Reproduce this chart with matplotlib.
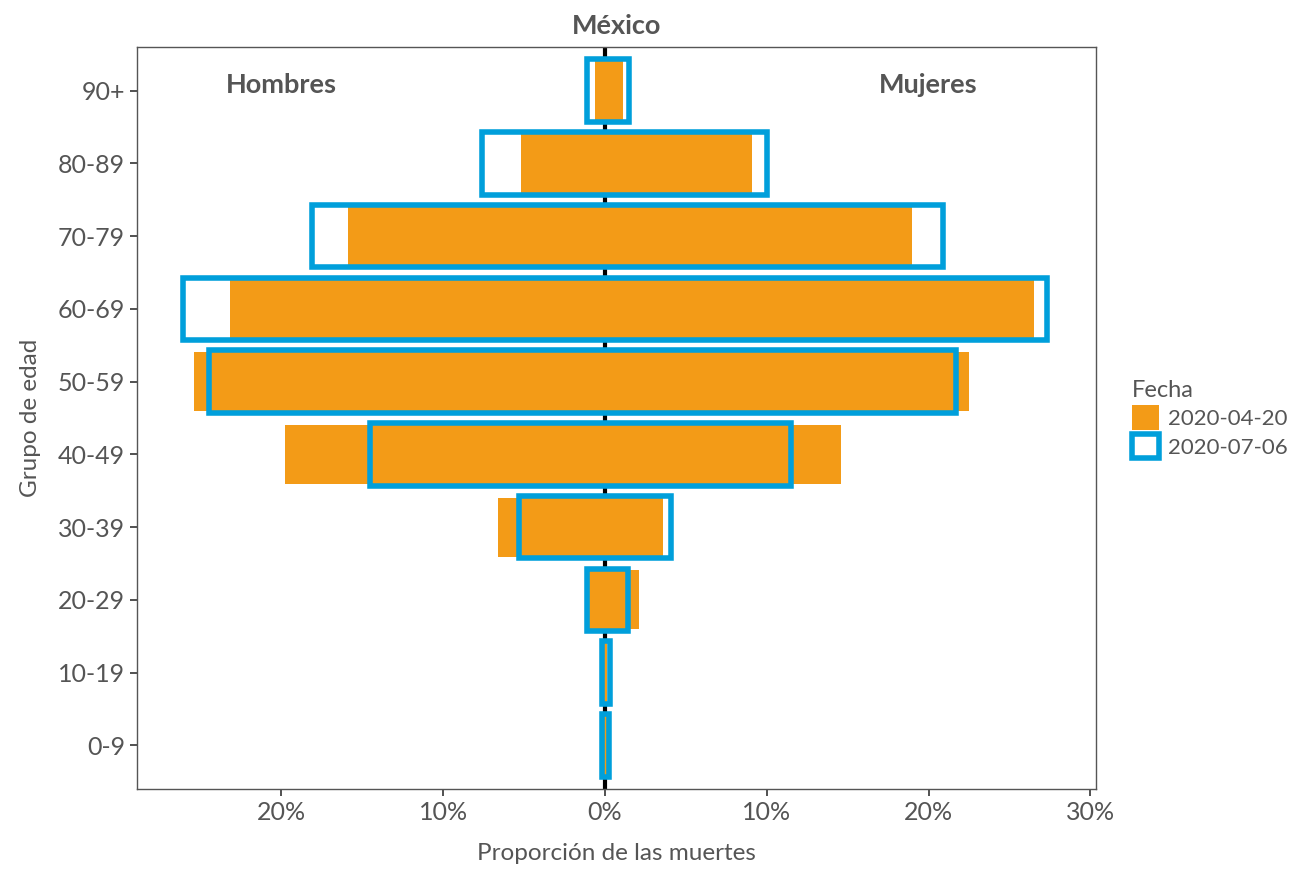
import matplotlib.pyplot as plt
from matplotlib.patches import Patch

# datos: proporción de muertes (%) por grupo de edad
grupos = ["0-9", "10-19", "20-29", "30-39", "40-49", "50-59", "60-69", "70-79", "80-89", "90+"]
hombres_0420 = [0.1, 0.1, 1.1, 6.6, 19.8, 25.4, 23.2, 15.9, 5.2, 0.6]
mujeres_0420 = [0.1, 0.1, 2.1, 3.6, 14.6, 22.5, 26.5, 19.0, 9.1, 1.1]
hombres_0706 = [0.17, 0.17, 1.1, 5.3, 14.5, 24.5, 26.1, 18.1, 7.6, 1.1]
mujeres_0706 = [0.24, 0.33, 1.4, 4.1, 11.5, 21.7, 27.3, 20.9, 10.0, 1.5]

naranja = "#F39B17"
azul = "#009FDB"
gris = "#555555"

plt.rcParams['font.family'] = ['Lato', 'DejaVu Sans']

fig = plt.figure(figsize=(12.9, 8.72), dpi=100)
ax = fig.add_axes([137 / 1290, 1 - 789 / 872, (1096 - 137) / 1290, (789 - 47) / 872])

y = list(range(len(grupos)))

ax.axvline(0, color="black", lw=3, zorder=1)

# 2020-04-20 relleno
ax.barh(y, [-v for v in hombres_0420], height=0.81, color=naranja, zorder=2)
ax.barh(y, mujeres_0420, height=0.81, color=naranja, zorder=2)

# 2020-07-06 solo contorno
left = [-v for v in hombres_0706]
widths = [h + m for h, m in zip(hombres_0706, mujeres_0706)]
ax.barh(y, widths, left=left, height=0.86, fill=False, edgecolor=azul, lw=4, zorder=3)

ax.set_xlim(-28.92, 30.35)
ax.set_ylim(-0.6, 9.6)
ax.set_yticks(y)
ax.set_yticklabels(grupos)
ticks = [-20, -10, 0, 10, 20, 30]
ax.set_xticks(ticks)
ax.set_xticklabels([f"{abs(t)}%" for t in ticks])

ax.tick_params(axis="both", labelsize=18, colors="#333333", labelcolor=gris, length=5, width=1.2)
for s in ax.spines.values():
    s.set_color("#555555")
    s.set_linewidth(1.0)

ax.set_xlabel("Proporción de las muertes", fontsize=17.5, color=gris, labelpad=14)
ax.set_ylabel("Grupo de edad", fontsize=17.5, color=gris, labelpad=12)
ax.set_title("México", fontsize=19.5, fontweight="bold", color=gris, pad=9)

ax.text(-20, 9.08, "Hombres", ha="center", va="center", fontsize=19.5, fontweight="bold", color=gris)
ax.text(20, 9.08, "Mujeres", ha="center", va="center", fontsize=19.5, fontweight="bold", color=gris)

handles = [Patch(facecolor=naranja, edgecolor="none", label="2020-04-20"),
           Patch(facecolor="white", edgecolor=azul, lw=4, label="2020-07-06")]
leg = fig.legend(handles=handles, title="Fecha", loc="upper left",
                 bbox_to_anchor=(1112 / 1290, 1 - 360 / 872), frameon=False,
                 fontsize=16, title_fontsize=17, handlelength=1.2, handleheight=1.3,
                 handletextpad=0.4, labelspacing=0.2, alignment="left")
for t in leg.get_texts():
    t.set_color(gris)
leg.get_title().set_color(gris)

fig.savefig("out.png", dpi=100)
